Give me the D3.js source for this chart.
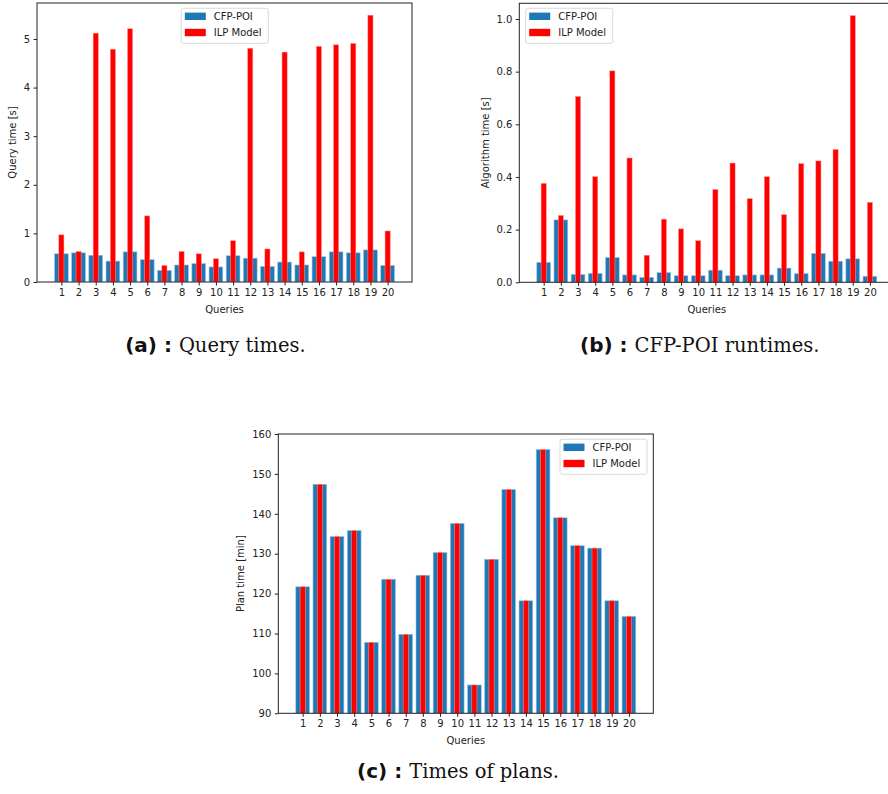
<!DOCTYPE html>
<html>
<head>
<meta charset="utf-8">
<script src="https://cdn.jsdelivr.net/npm/d3@7"></script>
<style>
  html, body { margin: 0; padding: 0; background: #fff; }
  svg { display: block; }
  .tick text { font-family: "DejaVu Sans", sans-serif; font-size: 10px; fill: #222; }
  .tick line { stroke: #222; }
</style>
</head>
<body>
<svg id="chart" width="888" height="794"></svg>
<script>
// ── Data ─────────────────────────────────────────────────────────────────
const queries = d3.range(1, 21);
const seriesNames = ['CFP-POI', 'ILP Model'];

// (a) query times [s]
const queryCfp = [0.58, 0.60, 0.55, 0.43, 0.62, 0.46, 0.24, 0.35, 0.38, 0.31,
                  0.54, 0.49, 0.32, 0.41, 0.35, 0.52, 0.62, 0.60, 0.66, 0.34];
const queryIlp = [0.97, 0.63, 5.12, 4.79, 5.21, 1.36, 0.34, 0.63, 0.58, 0.48,
                  0.85, 4.81, 0.68, 4.73, 0.62, 4.85, 4.88, 4.91, 5.49, 1.05];

// (b) algorithm times [s]
const algoCfp = [0.076, 0.237, 0.030, 0.034, 0.094, 0.028, 0.019, 0.037, 0.025, 0.025,
                 0.046, 0.025, 0.028, 0.028, 0.054, 0.033, 0.110, 0.080, 0.089, 0.023];
const algoIlp = [0.376, 0.254, 0.706, 0.401, 0.803, 0.472, 0.103, 0.240, 0.203, 0.158,
                 0.353, 0.453, 0.318, 0.401, 0.257, 0.451, 0.461, 0.505, 1.013, 0.304];

// (c) plan times [min] — both methods give the same plans
const planCfp = [121.7, 147.4, 134.3, 135.8, 107.8, 123.6, 109.8, 124.6, 130.3, 137.6,
                 97.1, 128.6, 146.1, 118.2, 156.1, 139.0, 132.0, 131.4, 118.2, 114.3];
const planIlp = planCfp.slice();

const ticksA = [0, 1, 2, 3, 4, 5];
const ticksB = [0, 0.2, 0.4, 0.6, 0.8, 1.0];
const ticksC = [90, 100, 110, 120, 130, 140, 150, 160];

// ── Styling ──────────────────────────────────────────────────────────────
const BLUE = '#1f77b4';
const RED  = '#ff0000';
const FONT = '"DejaVu Sans", sans-serif';
const WIDE = 0.8;   // blue bar width (data units)
const THIN = 0.3;   // red bar width

const svg = d3.select('#chart');

function drawPanel(p) {
  const x = d3.scaleLinear().domain([-0.42, 21.42]).range([p.left, p.right]);
  const y = d3.scaleLinear().domain(p.ydom).range([p.bottom, p.top]);

  const g = svg.append('g');

  // clip so panels cut at the frame (panel b runs off the page)
  const clipId = 'clip-' + p.id;
  g.append('clipPath').attr('id', clipId)
    .append('rect')
    .attr('x', p.left).attr('y', p.top)
    .attr('width', p.right - p.left).attr('height', p.bottom - p.top);

  const bars = g.append('g').attr('clip-path', `url(#${clipId})`);

  bars.selectAll('rect.cfp')
    .data(queries)
    .join('rect')
    .attr('class', 'cfp')
    .attr('x', q => x(q - WIDE / 2))
    .attr('width', x(WIDE) - x(0))
    .attr('y', (q, i) => y(p.cfp[i]))
    .attr('height', (q, i) => y(p.ydom[0]) - y(p.cfp[i]))
    .attr('fill', BLUE)
    .attr('stroke', '#9cc3de')
    .attr('stroke-width', 0.6);

  bars.selectAll('rect.ilp')
    .data(queries)
    .join('rect')
    .attr('class', 'ilp')
    .attr('x', q => x(q - THIN / 2))
    .attr('width', x(THIN) - x(0))
    .attr('y', (q, i) => y(p.ilp[i]))
    .attr('height', (q, i) => y(p.ydom[0]) - y(p.ilp[i]))
    .attr('fill', RED)
    .attr('stroke', '#ff9a9a')
    .attr('stroke-width', 0.5);

  // axes
  const xAxis = g.append('g')
    .attr('transform', `translate(0,${p.bottom})`)
    .call(d3.axisBottom(x).tickValues(queries).tickFormat(d3.format('d'))
      .tickSize(3.5).tickPadding(3.5));
  xAxis.select('.domain').remove();

  const yAxis = g.append('g')
    .attr('transform', `translate(${p.left},0)`)
    .call(d3.axisLeft(y).tickValues(p.ticks).tickFormat(p.fmt)
      .tickSize(3.5).tickPadding(3.5));
  yAxis.select('.domain').remove();

  // frame
  g.append('rect')
    .attr('x', p.left).attr('y', p.top)
    .attr('width', p.right - p.left).attr('height', p.bottom - p.top)
    .attr('fill', 'none')
    .attr('stroke', '#222')
    .attr('stroke-width', 1);

  // axis labels
  g.append('text')
    .attr('x', (p.left + p.right) / 2)
    .attr('y', p.bottom + 31)
    .attr('text-anchor', 'middle')
    .attr('font-family', FONT).attr('font-size', '10px').attr('fill', '#222')
    .text('Queries');

  g.append('text')
    .attr('transform', `translate(${p.ylabX},${(p.top + p.bottom) / 2}) rotate(-90)`)
    .attr('text-anchor', 'middle')
    .attr('dominant-baseline', 'central')
    .attr('font-family', FONT).attr('font-size', '10px').attr('fill', '#222')
    .text(p.ylabel);

  // legend
  const lg = g.append('g').attr('transform', `translate(${p.legX},${p.legY})`);
  lg.append('rect')
    .attr('width', 87).attr('height', 35)
    .attr('rx', 2)
    .attr('fill', 'rgba(255,255,255,0.8)')
    .attr('stroke', '#d0d0d0')
    .attr('stroke-width', 0.8);

  lg.selectAll('g.item')
    .data(seriesNames)
    .join('g')
    .attr('class', 'item')
    .attr('transform', (d, i) => `translate(0,${8 + i * 16.2})`)
    .each(function(d, i) {
      const item = d3.select(this);
      item.append('rect')
        .attr('x', 3.5).attr('y', -3.7)
        .attr('width', 21).attr('height', 7.4)
        .attr('fill', i === 0 ? BLUE : RED);
      item.append('text')
        .attr('x', 32.5).attr('y', 0)
        .attr('dominant-baseline', 'central')
        .attr('font-family', FONT).attr('font-size', '10px').attr('fill', '#222')
        .text(d);
    });

  // caption
  const cap = svg.append('text')
    .attr('x', p.capX).attr('y', p.capY)
    .attr('text-anchor', 'middle')
    .attr('fill', '#111');
  cap.append('tspan')
    .attr('font-family', FONT).attr('font-weight', 'bold').attr('font-size', '20px')
    .text(p.capTag + '\u00a0');
  cap.append('tspan')
    .attr('font-family', '"DejaVu Serif", serif').attr('font-size', '19.5px')
    .text(p.capText);
}

drawPanel({
  id: 'a', cfp: queryCfp, ilp: queryIlp,
  left: 37, right: 412, top: 3, bottom: 282,
  ydom: [0, 5.74], ticks: ticksA, fmt: d3.format('d'),
  ylabel: 'Query time [s]', ylabX: 12.7,
  legX: 181.3, legY: 8.3,
  capX: 215.5, capY: 352, capTag: '(a) :', capText: 'Query times.'
});

drawPanel({
  id: 'b', cfp: algoCfp, ilp: algoIlp,
  left: 519.3, right: 894.3, top: 3.3, bottom: 282.3,
  ydom: [0, 1.0596], ticks: ticksB, fmt: d3.format('.1f'),
  ylabel: 'Algorithm time [s]', ylabX: 485,
  legX: 525.7, legY: 8.3,
  capX: 699.7, capY: 352, capTag: '(b) :', capText: 'CFP-POI runtimes.'
});

drawPanel({
  id: 'c', cfp: planCfp, ilp: planIlp,
  left: 278.3, right: 653.3, top: 434, bottom: 713.3,
  ydom: [90, 160], ticks: ticksC, fmt: d3.format('d'),
  ylabel: 'Plan time [min]', ylabX: 240,
  legX: 560, legY: 439.3,
  capX: 458, capY: 778, capTag: '(c) :', capText: 'Times of plans.'
});
</script>
</body>
</html>
